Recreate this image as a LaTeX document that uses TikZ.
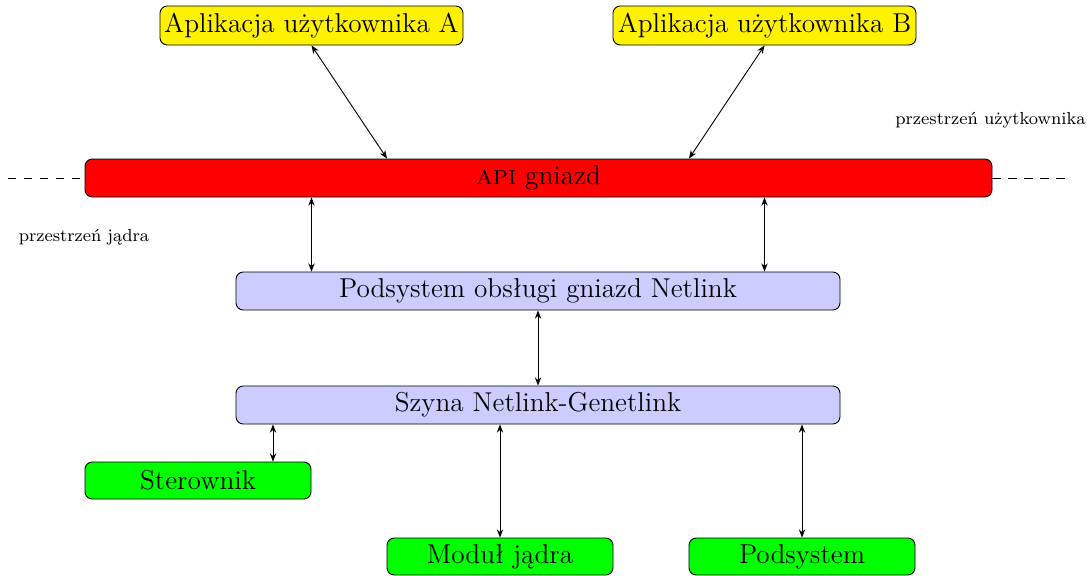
\documentclass[tikz,border=0pt]{standalone}
\usepackage{fontspec}
\usepackage{graphicx}
\usetikzlibrary{arrows.meta}
\newcommand\boxtxt[1]{\scalebox{1.25}{\large #1}}
\newcommand\lbltxt[1]{\scalebox{1.2}{\footnotesize #1}}
\begin{document}
\begin{tikzpicture}[x=0.55pt,y=-0.55pt,
  box/.style={draw=black,rounded corners=4pt,inner sep=0pt,line width=0.5pt},
  userapp/.style={box,fill=yellow,minimum width=303*0.55pt,minimum height=39*0.55pt},
  apibar/.style={box,fill=red,minimum width=907*0.55pt,minimum height=38*0.55pt},
  layer/.style={box,fill=blue!20,minimum width=604*0.55pt,minimum height=38*0.55pt},
  kmod/.style={box,fill=green,minimum width=226*0.55pt,minimum height=37*0.55pt},
  link/.style={{Stealth[length=4.5pt,width=3.5pt]}-{Stealth[length=4.5pt,width=3.5pt]},line width=0.5pt},
  sep/.style={dash pattern=on 4.5pt off 4.3pt,line width=0.5pt},
  lbl/.style={inner sep=0pt}]
\useasboundingbox (0,0) rectangle (1090,575);
\node[userapp] (A) at (311.5,25.5) {\boxtxt{Aplikacja użytkownika A}};
\node[userapp] (B) at (764.5,25.5) {\boxtxt{Aplikacja użytkownika B}};
\node[apibar] (api) at (538.5,178) {\boxtxt{\textsc{api} gniazd}};
\node[layer] (pog) at (538,291) {\boxtxt{Podsystem obsługi gniazd Netlink}};
\node[layer] (bus) at (538,405) {\boxtxt{Szyna Netlink-Genetlink}};
\node[kmod] (drv) at (198,480.5) {\boxtxt{Sterownik}};
\node[kmod] (mod) at (500,556.5) {\boxtxt{Moduł jądra}};
\node[kmod] (sub) at (802,556.5) {\boxtxt{Podsystem}};
\node[lbl] (us) at (990.5,120) {\lbltxt{przestrzeń użytkownika}};
\node[lbl] (ks) at (84,237) {\lbltxt{przestrzeń jądra}};
\coordinate (dl) at (8,178);
\coordinate (dr) at (1068,178);
\coordinate (pa) at (387,0);
\coordinate (pb) at (689,0);
\coordinate (pd) at (273,0);
\draw[sep] (dl) -- (api.west);
\draw[sep] (api.east) -- (dr);
\draw[link] (A.south) -- (api.north -| pa);
\draw[link] (B.south) -- (api.north -| pb);
\draw[link] (api.south -| A.south) -- (pog.north -| A.south);
\draw[link] (api.south -| B.south) -- (pog.north -| B.south);
\draw[link] (pog.south) -- (bus.north);
\draw[link] (bus.south -| pd) -- (drv.north -| pd);
\draw[link] (bus.south -| mod.north) -- (mod.north);
\draw[link] (bus.south -| sub.north) -- (sub.north);
\end{tikzpicture}
\end{document}
